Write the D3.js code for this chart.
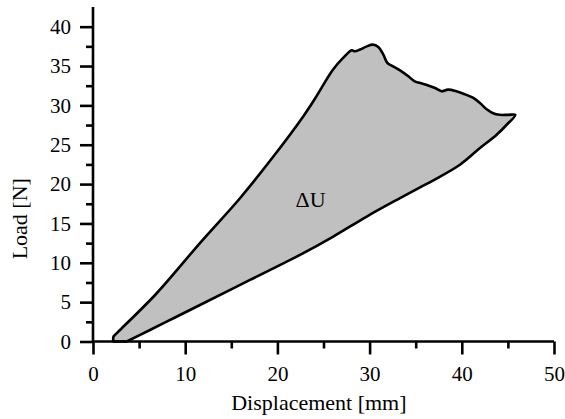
<!DOCTYPE html>
<html>
<head>
<meta charset="utf-8">
<script src="https://cdn.jsdelivr.net/npm/d3@7"></script>
<style>
  body { margin: 0; background: #fff; }
  text { font-family: "Liberation Serif", "Times New Roman", serif; fill: #000; }
</style>
</head>
<body>
<div id="container"></div>
<script>
// loading branch (displacement mm, load N)
const loadX = [2.2, 2.22, 2.39, 2.93, 6.91, 11.6, 15.94, 19.56, 22.8, 24.1, 26.0, 27.1, 28.06, 28.4, 28.96, 29.7, 30.34, 30.94, 31.49, 31.92, 32.4, 33.3, 34.2, 34.9, 35.6, 36.2, 37.1, 37.8, 38.5, 39.4, 40.35, 41.25, 41.97, 42.7, 43.4, 44.1, 45.0, 45.8]
const loadY = [0, 0.6, 0.83, 1.46, 6.13, 12.5, 18.2, 23.5, 28.6, 30.9, 34.5, 36.0, 37.0, 36.87, 37.09, 37.5, 37.72, 37.43, 36.45, 35.4, 35.05, 34.45, 33.7, 33.05, 32.8, 32.6, 32.2, 31.8, 32.0, 31.8, 31.4, 30.95, 30.3, 29.5, 29.0, 28.8, 28.8, 28.8]
// unloading branch, from the tip back down
const unloadX = [45.82, 44.87, 43.78, 41.97, 39.8, 36.91, 35.47, 33.3, 29.69, 26.06, 22.45, 17.03, 11.6, 8.89, 6.18, 3.66]
const unloadY = [28.82, 27.54, 26.27, 24.58, 22.46, 20.48, 19.59, 18.22, 15.88, 13.33, 11.0, 7.82, 4.64, 3.05, 1.46, 0]

const xTicks = [0, 10, 20, 30, 40, 50]
const xMinor = [5, 15, 25, 35, 45]
const yTicks = [0, 5, 10, 15, 20, 25, 30, 35, 40]
const yMinor = [2.5, 7.5, 12.5, 17.5, 22.5, 27.5, 32.5, 37.5]

const width = 565, height = 419
const margin = { left: 93, right: 11, top: 7, bottom: 77.5 }

const x = d3.scaleLinear().domain([0, 50]).range([margin.left, width - margin.right])
const y = d3.scaleLinear().domain([0, 42.5]).range([height - margin.bottom, margin.top])

const svg = d3.select('#container')
  .append('svg')
  .attr('width', width)
  .attr('height', height)

let pts = loadX.map((d, i) => [d, loadY[i]])
  .concat(unloadX.slice(1).map((d, i) => [d, unloadY[i + 1]]))

const line = d3.line()
  .x(d => x(d[0]))
  .y(d => y(d[1]))
  .curve(d3.curveCatmullRom.alpha(0.5))

svg.append('path')
  .attr('d', line(pts) + 'Z')
  .style('fill', '#c0c0c0')
  .style('stroke', '#000')
  .style('stroke-width', 2.6)
  .style('stroke-linejoin', 'round')

svg.append('text')
  .attr('x', x(23.6))
  .attr('y', y(17.1))
  .attr('text-anchor', 'middle')
  .style('font-size', '22px')
  .text('ΔU')

// axes
svg.append('g')
  .attr('class', 'xaxis')
  .attr('transform', `translate(0 ${y(0)})`)
  .call(d3.axisBottom(x).tickValues(xTicks).tickSize(13).tickPadding(12))
svg.append('g')
  .attr('transform', `translate(0 ${y(0)})`)
  .call(d3.axisBottom(x).tickValues(xMinor).tickSize(7).tickFormat(''))
  .select('.domain').remove()

svg.append('g')
  .attr('class', 'yaxis')
  .attr('transform', `translate(${x(0)} 0)`)
  .call(d3.axisLeft(y).tickValues(yTicks).tickSize(13).tickPadding(9))
svg.append('g')
  .attr('transform', `translate(${x(0)} 0)`)
  .call(d3.axisLeft(y).tickValues(yMinor).tickSize(7).tickFormat(''))
  .select('.domain').remove()

svg.select('.xaxis .domain').attr('d', `M${x(0)},0H${x(50)}`)
svg.select('.yaxis .domain').attr('d', `M0,${y(0)}V${y(42.5)}`)
svg.selectAll('.domain, .tick line')
  .style('stroke', '#000')
  .style('stroke-width', 2.6)
svg.selectAll('.tick text')
  .style('font-size', '21px')
  .style('font-family', '"Liberation Serif", serif')

svg.append('text')
  .attr('x', x(24.5))
  .attr('y', 410)
  .attr('text-anchor', 'middle')
  .style('font-size', '22px')
  .text('Displacement [mm]')

svg.append('text')
  .attr('transform', `translate(27 ${y(15.6)}) rotate(-90)`)
  .attr('text-anchor', 'middle')
  .style('font-size', '22px')
  .text('Load [N]')
</script>
</body>
</html>
